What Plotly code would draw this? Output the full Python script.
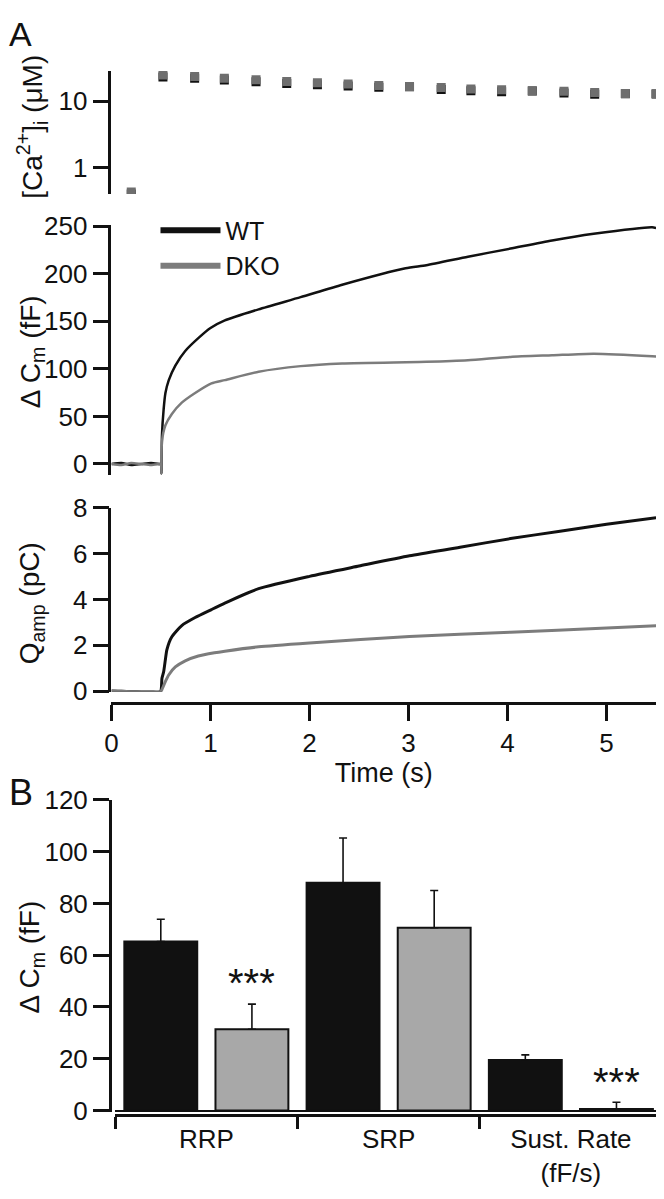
import plotly.graph_objects as go

# ---------------- data ----------------
# Panel A top: [Ca2+]i (uM)
ca_t = [0.2, 0.52, 0.84, 1.14, 1.46, 1.77, 2.08, 2.39, 2.70, 3.01, 3.33, 3.63, 3.94, 4.25, 4.57, 4.88, 5.19, 5.5]
ca_dko = [0.43, 24.9, 23.6, 22.3, 21.1, 19.9, 19.0, 18.2, 17.4, 16.8, 16.1, 15.4, 14.9, 14.5, 14.2, 13.6, 13.1, 13.0]
ca_wt = [0.40, 23.3, 22.2, 21.0, 19.7, 18.6, 17.8, 17.0, 16.3, 16.6, 15.1, 14.5, 14.0, 14.3, 13.3, 12.8, 13.0, 12.9]

# Panel A middle: delta Cm (fF)
cm_wt_t = [0, 0.1, 0.2, 0.3, 0.4, 0.49, 0.5, 0.505, 0.51, 0.527, 0.545, 0.578, 0.645, 0.745, 0.877,
           1.0, 1.145, 1.486, 1.91, 2.33, 2.97, 3.18, 3.60, 4.03, 4.45, 4.87, 5.46, 5.5]
cm_wt = [0, 1, -1, 0, 1, 0, 0, -10, 30, 57.7, 74.7, 88, 103.5, 118.8, 132.3,
         143, 151, 162.6, 175.4, 188.5, 205.8, 209, 217.9, 226.5, 235, 242, 249, 248]
cm_dko_t = [0, 0.1, 0.2, 0.3, 0.4, 0.49, 0.5, 0.505, 0.51, 0.545, 0.61, 0.71, 0.845, 1.01, 1.145,
            1.486, 1.91, 2.33, 3.18, 3.60, 4.03, 4.45, 4.87, 5.46, 5.5]
cm_dko = [0, -1, 1, 0, -1, 0, 0, -10, 23.8, 40.7, 52.6, 64.5, 74.7, 84.8, 88.2,
          97, 102.9, 105.7, 107.4, 109, 112.6, 114.3, 116, 113.3, 113]

# Panel A bottom: Qamp (pC)
q_wt_t = [0, 0.1, 0.2, 0.3, 0.4, 0.495, 0.51, 0.527, 0.545, 0.56, 0.61, 0.71, 0.845, 1.01, 1.145,
          1.486, 2.0, 2.5, 3.01, 3.52, 4.03, 4.53, 5.0, 5.5]
q_wt = [0, -0.01, -0.03, -0.04, -0.04, -0.03, 0.56, 0.84, 1.39, 1.81, 2.37, 2.86, 3.21, 3.56, 3.84,
        4.47, 5.01, 5.46, 5.91, 6.28, 6.66, 6.98, 7.29, 7.57]
q_dko_t = [0, 0.1, 0.2, 0.3, 0.4, 0.495, 0.51, 0.545, 0.578, 0.645, 0.745, 0.877, 1.04, 1.145,
           1.486, 2.0, 3.01, 4.03, 5.0, 5.5]
q_dko = [0, -0.01, -0.03, -0.04, -0.04, -0.03, 0.07, 0.42, 0.70, 1.05, 1.32, 1.53, 1.67, 1.74,
         1.93, 2.10, 2.38, 2.57, 2.75, 2.85]

time_ticks = [0, 1, 2, 3, 4, 5]

# Panel B: bar chart
categories = ["RRP", "SRP", "Sust. Rate<br>(fF/s)"]
wt_mean = [65.3, 88.0, 19.5]
wt_sem = [8.6, 17.3, 2.0]
dko_mean = [31.4, 70.6, 0.6]
dko_sem = [9.7, 14.4, 2.6]
significance = ["***", "", "***"]

# ---------------- style ----------------
FONT = "Liberation Sans, Arial, Helvetica, sans-serif"
BLACK = "#111111"
GREY_LINE = "#7c7c7c"
GREY_MARK = "#6e6e6e"
GREY_BAR = "#a8a8a8"
OFF = 8                      # default page margin of the html body
W, H = 664 - OFF, 1199 - OFF


def px(x):
    return (x - OFF) / W


def py(y):
    return 1 - (y - OFF) / H


fig = go.Figure()

# top: Ca markers
fig.add_trace(go.Scatter(x=ca_t, y=ca_wt, mode="markers", xaxis="x", yaxis="y",
                         marker=dict(symbol="square", size=9, color=BLACK), showlegend=False))
fig.add_trace(go.Scatter(x=ca_t, y=ca_dko, mode="markers", xaxis="x", yaxis="y",
                         marker=dict(symbol="square", size=9, color=GREY_MARK), showlegend=False))

# middle: Cm traces
fig.add_trace(go.Scatter(x=cm_wt_t, y=cm_wt, mode="lines", xaxis="x2", yaxis="y2",
                         line=dict(color=BLACK, width=2.5, shape="spline", smoothing=0.6),
                         showlegend=False))
fig.add_trace(go.Scatter(x=cm_dko_t, y=cm_dko, mode="lines", xaxis="x2", yaxis="y2",
                         line=dict(color=GREY_LINE, width=2.5, shape="spline", smoothing=0.6),
                         showlegend=False))
# legend entries
fig.add_trace(go.Scatter(x=[None], y=[None], mode="lines", xaxis="x2", yaxis="y2", name="WT",
                         line=dict(color=BLACK, width=6)))
fig.add_trace(go.Scatter(x=[None], y=[None], mode="lines", xaxis="x2", yaxis="y2", name="DKO",
                         line=dict(color=GREY_LINE, width=6)))

# bottom: Q traces
fig.add_trace(go.Scatter(x=q_wt_t, y=q_wt, mode="lines", xaxis="x3", yaxis="y3",
                         line=dict(color=BLACK, width=3, shape="spline", smoothing=0.6),
                         showlegend=False))
fig.add_trace(go.Scatter(x=q_dko_t, y=q_dko, mode="lines", xaxis="x3", yaxis="y3",
                         line=dict(color=GREY_LINE, width=3, shape="spline", smoothing=0.6),
                         showlegend=False))

# B: bars
wt_x = [2 * i for i in range(len(categories))]
dko_x = [2 * i + 1 for i in range(len(categories))]
fig.add_trace(go.Bar(x=wt_x, y=wt_mean, width=0.8, xaxis="x4", yaxis="y4",
                     marker=dict(color=BLACK, line=dict(color=BLACK, width=2)),
                     error_y=dict(type="data", array=wt_sem, arrayminus=[0] * 3, symmetric=False,
                                  color=BLACK, thickness=1.6, width=4),
                     showlegend=False))
fig.add_trace(go.Bar(x=dko_x, y=dko_mean, width=0.8, xaxis="x4", yaxis="y4",
                     marker=dict(color=GREY_BAR, line=dict(color=BLACK, width=2)),
                     error_y=dict(type="data", array=dko_sem, arrayminus=[0] * 3, symmetric=False,
                                  color=BLACK, thickness=1.6, width=4),
                     showlegend=False))

TICKFONT = dict(family=FONT, size=26, color=BLACK)
axis_common = dict(showline=True, linecolor=BLACK, linewidth=2.5, ticks="outside", ticklen=16,
                   tickwidth=2.5, tickcolor=BLACK, showgrid=False, zeroline=False,
                   tickfont=TICKFONT)

xdom = [px(105.5), px(656)]
hidden_x = dict(domain=xdom, range=[0, 5.5], visible=False)

fig.update_layout(
    width=W, height=H,
    margin=dict(l=0, r=0, t=0, b=0),
    paper_bgcolor="white", plot_bgcolor="rgba(0,0,0,0)",
    font=dict(family=FONT, size=26, color=BLACK),
    barmode="overlay",
    xaxis=dict(**hidden_x, anchor="y"),
    yaxis=dict(**axis_common, type="log", range=[-0.398, 1.456], tickvals=[1, 10],
               domain=[py(183.3), py(57.3)], anchor="x"),
    xaxis2=dict(**hidden_x, anchor="y2"),
    yaxis2=dict(**axis_common, range=[-12, 251.3], tickvals=[0, 50, 100, 150, 200, 250],
                domain=[py(471.7), py(215)], anchor="x2"),
    xaxis3=dict(**axis_common, domain=xdom, range=[0, 5.5], tickvals=time_ticks,
                anchor="free", position=py(705),
                title=dict(text="Time (s)", font=dict(family=FONT, size=27, color=BLACK), standoff=0)),
    yaxis3=dict(**axis_common, range=[-0.03, 8.0], tickvals=[0, 2, 4, 6, 8],
                domain=[py(693.4), py(505)], anchor="x3"),
    xaxis4=dict(showline=True, linecolor=BLACK, linewidth=2.5, showgrid=False, zeroline=False,
                domain=[px(109.3), px(662)], range=[-0.5, 5.5],
                anchor="free", position=py(1127.7),
                tickmode="array", tickvals=[0.5, 2.5, 4.5], ticktext=categories,
                ticks="", tickfont=TICKFONT,
                minor=dict(tickmode="array", tickvals=[-0.5, 1.5, 3.5, 5.5], ticks="outside",
                           ticklen=12, tickwidth=2.5, tickcolor=BLACK)),
    yaxis4=dict(**{k: v for k, v in axis_common.items() if k != "zeroline"},
                range=[-0.5, 120], tickvals=[0, 20, 40, 60, 80, 100, 120],
                domain=[py(1124), py(804.3)], anchor="free", position=px(103.8),
                zeroline=True, zerolinecolor=BLACK, zerolinewidth=2),
    legend=dict(x=px(150), y=py(197), xanchor="left", yanchor="top",
                bgcolor="rgba(0,0,0,0)", font=dict(family=FONT, size=25, color=BLACK),
                itemwidth=60, tracegroupgap=0),
)

ann = []
ytitle_font = dict(family=FONT, size=28, color=BLACK)
for text, ycen in [("[Ca<sup>2+</sup>]<sub>i</sub> (μM)", 114.5),
                   ("Δ C<sub>m</sub> (fF)", 344.5),
                   ("Q<sub>amp</sub> (pC)", 603),
                   ("Δ C<sub>m</sub> (fF)", 965)]:
    ann.append(dict(text=text, x=px(25), y=py(ycen), xref="paper", yref="paper", textangle=-90,
                    showarrow=False, xanchor="center", yanchor="middle", font=ytitle_font))
ann.append(dict(text="A", x=px(0), y=py(19), xref="paper", yref="paper", showarrow=False,
                xanchor="left", yanchor="middle", font=dict(family=FONT, size=34, color=BLACK)))
ann.append(dict(text="B", x=px(0), y=py(797), xref="paper", yref="paper", showarrow=False,
                xanchor="left", yanchor="middle", font=dict(family=FONT, size=36, color=BLACK)))
for xi, m, s, sig in zip(dko_x, dko_mean, dko_sem, significance):
    if sig:
        ann.append(dict(text=sig, x=xi, y=m + s + 8, xref="x4", yref="y4", showarrow=False,
                        xanchor="center", yanchor="middle", font=dict(family=FONT, size=40, color=BLACK)))
fig.update_layout(annotations=ann)

fig.write_html("out.html")
